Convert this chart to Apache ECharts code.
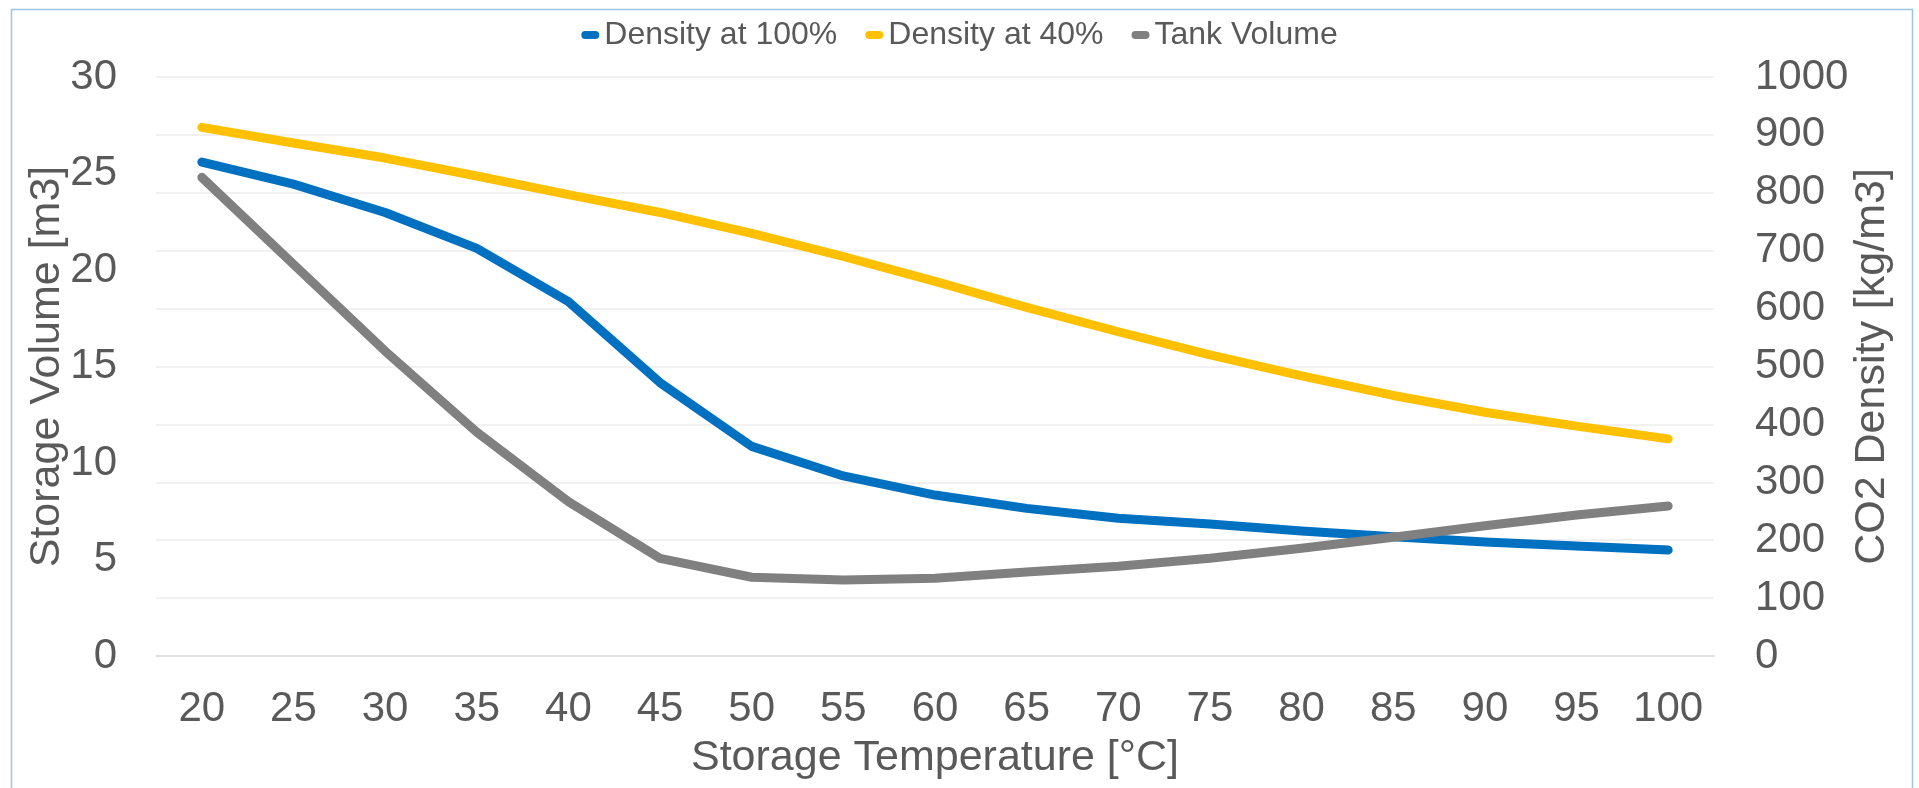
<!DOCTYPE html>
<html>
<head>
<meta charset="utf-8">
<script src="https://cdn.jsdelivr.net/npm/echarts@6/dist/echarts.min.js"></script>
<style>
html,body{margin:0;padding:0;background:#fff;}
#chart{width:1919px;height:788px;}
</style>
</head>
<body>
<div id="chart"></div>
<script>
// ---- data ----
const temperatures = ['20','25','30','35','40','45','50','55','60','65','70','75','80','85','90','95','100'];
const density100 = [853, 815, 766, 704, 612, 472, 362, 311, 278, 255, 238, 228, 216, 206, 197, 190, 183];
const density40  = [913, 886, 860, 829, 797, 766, 730, 690, 647, 602, 560, 520, 484, 450, 421, 397, 375];
const tankVolume = [24.8, 20.3, 15.8, 11.6, 8.0, 5.06, 4.08, 3.94, 4.03, 4.35, 4.65, 5.06, 5.58, 6.15, 6.75, 7.31, 7.77];
const seriesNames = ['Density at 100%', 'Density at 40%', 'Tank Volume'];
const seriesColors = ['#0070C0', '#FFC000', '#808080'];
const leftAxisName = 'Storage Volume [m3]';
const rightAxisName = 'CO2 Density [kg/m3]';
const xAxisName = 'Storage Temperature [°C]';

const FONT = 'Liberation Sans, Arial, sans-serif';
const TXT = '#595959';

const chart = echarts.init(document.getElementById('chart'), null, {renderer: 'canvas'});

function lineSeries(name, data, color, yIndex) {
  return {
    name: name,
    type: 'line',
    yAxisIndex: yIndex,
    data: data,
    symbol: 'none',
    smooth: false,
    lineStyle: {color: color, width: 9, cap: 'round', join: 'round'},
    itemStyle: {color: color, borderWidth: 0},
    emphasis: {disabled: true},
    animation: false
  };
}

chart.setOption({
  animation: false,
  backgroundColor: '#ffffff',
  textStyle: {fontFamily: FONT},
  graphic: [{
    type: 'rect', left: 9, top: 7, silent: true, z: -10,
    shape: {width: 1901, height: 800},
    style: {fill: 'none', stroke: '#9DC3E6', lineWidth: 1.5}
  }],
  legend: {
    top: 14,
    left: 'center',
    itemWidth: 18,
    itemHeight: 8,
    itemGap: 28,
    icon: 'path://M4,0H14A4,4,0,0,1,14,8H4A4,4,0,0,1,4,0Z',
    itemStyle: {borderWidth: 0},
    textStyle: {fontSize: 32, color: TXT, fontFamily: FONT},
    data: seriesNames
  },
  grid: {left: 156, right: 205, top: 77, bottom: 132, containLabel: false, outerBoundsMode: 'none'},
  xAxis: {
    type: 'category',
    data: temperatures,
    boundaryGap: true,
    name: xAxisName,
    nameLocation: 'middle',
    nameGap: 81,
    nameMoveOverlap: false,
    nameTextStyle: {fontSize: 43, color: TXT, fontFamily: FONT},
    axisLine: {show: true, lineStyle: {color: '#D9D9D9', width: 1.5}},
    axisTick: {show: false},
    axisLabel: {fontSize: 42, color: TXT, margin: 32, fontFamily: FONT, interval: 0},
    splitLine: {show: false}
  },
  yAxis: [{
    type: 'value',
    position: 'left',
    min: 0, max: 30, interval: 5,
    name: leftAxisName,
    nameLocation: 'middle',
    nameRotate: 90,
    nameGap: 87,
    nameMoveOverlap: false,
    nameTextStyle: {fontSize: 43, color: TXT, fontFamily: FONT},
    axisLine: {show: false},
    axisTick: {show: false},
    axisLabel: {fontSize: 42, color: TXT, margin: 39, fontFamily: FONT, formatter: function (v) { return String(v); }},
    splitLine: {show: false}
  }, {
    type: 'value',
    position: 'right',
    min: 0, max: 1000, interval: 100,
    name: rightAxisName,
    nameLocation: 'middle',
    nameRotate: 90,
    nameGap: 137,
    nameMoveOverlap: false,
    nameTextStyle: {fontSize: 43, color: TXT, fontFamily: FONT},
    axisLine: {show: false},
    axisTick: {show: false},
    axisLabel: {fontSize: 42, color: TXT, margin: 41, align: 'left', fontFamily: FONT, formatter: function (v) { return String(v); }},
    splitLine: {show: true, lineStyle: {color: '#EDEDED', width: 1.5}}
  }],
  series: [
    lineSeries(seriesNames[0], density100, seriesColors[0], 1),
    lineSeries(seriesNames[1], density40, seriesColors[1], 1),
    lineSeries(seriesNames[2], tankVolume, seriesColors[2], 0)
  ]
});
</script>
</body>
</html>
